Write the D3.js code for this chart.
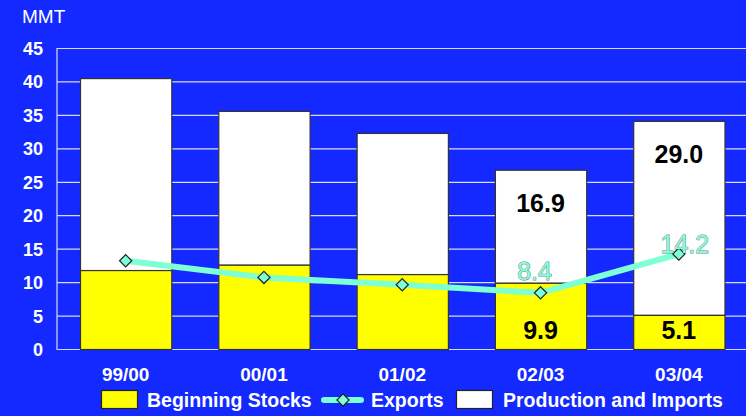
<!DOCTYPE html>
<html><head><meta charset="utf-8">
<script src="https://cdn.jsdelivr.net/npm/d3@7/dist/d3.min.js"></script>
<style>
html,body{margin:0;padding:0;background:#1329FF;}
svg{display:block;font-family:Arial,"Liberation Sans",sans-serif;}
</style></head>
<body><svg id="c" width="746" height="416"></svg>
<script>
const categories = ["99/00","00/01","01/02","02/03","03/04"];
const beginningStocks = [11.8, 12.6, 11.2, 9.9, 5.1];
const productionImports = [28.7, 23.0, 21.1, 16.9, 29.0];
const exportsVals = [13.2, 10.7, 9.6, 8.4, 14.2];
const yTicks = [0,5,10,15,20,25,30,35,40,45];
const labeledCats = ["02/03","03/04"];
const unitLabel = "MMT";
const legendNames = ["Beginning Stocks","Exports","Production and Imports"];

const bg = "#1329FF", yellow = "#FFFF00", aqua = "#7FFFD4";
const svg = d3.select("#c");
svg.append("rect").attr("width",746).attr("height",416).attr("fill",bg);

const y = d3.scaleLinear().domain([0,45]).range([349,48]);
const x = d3.scaleBand().domain(categories).range([56.5,748]).paddingInner(0.34).paddingOuter(0.17);

// grid
svg.append("g").selectAll("line").data(yTicks).join("line")
  .attr("x1",57).attr("x2",746).attr("y1",d=>y(d)+0.5).attr("y2",d=>y(d)+0.5)
  .attr("stroke","#d8dcf0").attr("stroke-width",1.2);
svg.append("line").attr("x1",57).attr("x2",57).attr("y1",y(45)).attr("y2",y(0)+1)
  .attr("stroke","#d8dcf0").attr("stroke-width",1.2);

// y axis
const yAxis = d3.axisLeft(y).tickValues(yTicks).tickSize(0).tickPadding(0);
const ga = svg.append("g").attr("transform","translate(43,0)").call(yAxis);
ga.select(".domain").remove();
ga.selectAll("text").attr("fill","#fff").style("font-size","18px").style("font-weight","bold").attr("dy","0.36em");

svg.append("text").attr("x",22).attr("y",23).attr("fill","#fff").style("font-size","19px").text(unitLabel);

// bars
const data = categories.map((c,i)=>({c, s:beginningStocks[i], p:productionImports[i], e:exportsVals[i]}));
const bars = svg.append("g");
bars.selectAll("rect.p").data(data).join("rect").attr("class","p")
  .attr("x",d=>x(d.c)+0.5).attr("width",x.bandwidth())
  .attr("y",d=>y(d.s+d.p)+0.5).attr("height",d=>y(d.s)-y(d.s+d.p))
  .attr("fill","#fff").attr("stroke","#333").attr("stroke-width",1.2);
bars.selectAll("rect.s").data(data).join("rect").attr("class","s")
  .attr("x",d=>x(d.c)+0.5).attr("width",x.bandwidth())
  .attr("y",d=>y(d.s)+0.5).attr("height",d=>y(0)-y(d.s))
  .attr("fill",yellow).attr("stroke","#333").attr("stroke-width",1.2);

// bar value labels
const lab = data.filter(d=>labeledCats.includes(d.c));
svg.append("g").selectAll("text").data(lab).join("text")
  .attr("x",d=>x(d.c)+x.bandwidth()/2).attr("y",d=>y(d.s+d.p)+42)
  .attr("text-anchor","middle").style("font-size","25px").style("font-weight","bold").attr("fill","#000")
  .text(d=>d.p.toFixed(1));
svg.append("g").selectAll("text").data(lab).join("text")
  .attr("x",d=>x(d.c)+x.bandwidth()/2).attr("y",y(0)-10)
  .attr("text-anchor","middle").style("font-size","25px").style("font-weight","bold").attr("fill","#000")
  .text(d=>d.s.toFixed(1));

// exports line
const cx = d=>x(d.c)+x.bandwidth()/2;
svg.append("path").datum(data)
  .attr("d",d3.line().x(cx).y(d=>y(d.e)))
  .attr("fill","none").attr("stroke",aqua).attr("stroke-width",6).attr("stroke-linejoin","round");
const diamond = d3.symbol().type(d3.symbolDiamond2).size(95);
svg.append("g").selectAll("path").data(data).join("path")
  .attr("transform",d=>`translate(${cx(d)},${y(d.e)})`)
  .attr("d",diamond).attr("fill",aqua).attr("stroke","#222").attr("stroke-width",1.2);

// exports labels
svg.append("g").selectAll("text").data(lab).join("text")
  .attr("x",(d,i)=>cx(d)+(i===0?-6:6)).attr("y",(d,i)=>y(d.e)-(i===0?13:1))
  .attr("text-anchor","middle").style("font-size","25px").attr("fill",aqua)
  .attr("stroke","rgba(60,70,90,0.7)").attr("stroke-width",1).style("paint-order","stroke")
  .text(d=>d.e.toFixed(1));

// x axis labels
const xAxis = d3.axisBottom(x).tickSize(0).tickPadding(0);
const gx = svg.append("g").attr("transform","translate(0,381)").call(xAxis);
gx.select(".domain").remove();
gx.selectAll("text").attr("fill","#fff").attr("dy",0).style("font-size","19px").style("font-weight","bold");

// legend
const lf = "19.5px";
const lg = svg.append("g");
lg.append("rect").attr("x",101.5).attr("y",390.5).attr("width",36).attr("height",18).attr("fill",yellow).attr("stroke","#222").attr("stroke-width",1.2);
lg.append("text").attr("x",147).attr("y",407).attr("fill","#fff").style("font-size",lf).style("font-weight","bold").text(legendNames[0]);
lg.append("line").attr("x1",324).attr("x2",361).attr("y1",400).attr("y2",400).attr("stroke",aqua).attr("stroke-width",6).attr("stroke-linecap","round");
lg.append("path").attr("transform","translate(343,400)").attr("d",diamond).attr("fill",aqua).attr("stroke","#222").attr("stroke-width",1.2);
lg.append("text").attr("x",371).attr("y",407).attr("fill","#fff").style("font-size",lf).style("font-weight","bold").text(legendNames[1]);
lg.append("rect").attr("x",456.5).attr("y",390.5).attr("width",36).attr("height",18).attr("fill","#fff").attr("stroke","#222").attr("stroke-width",1.2);
lg.append("text").attr("x",503).attr("y",407).attr("fill","#fff").style("font-size",lf).style("font-weight","bold").text(legendNames[2]);
</script></body></html>
